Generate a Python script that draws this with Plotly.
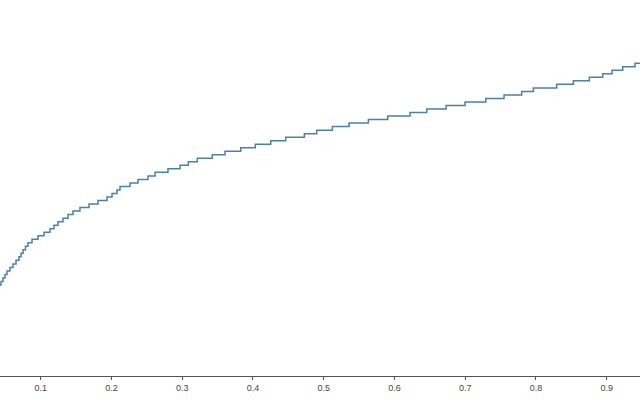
import plotly.graph_objects as go

# Step positions (x where each step rises)
step_x = [0.030,
          0.0439, 0.0467, 0.0495, 0.0524, 0.0566, 0.0608, 0.0651, 0.0693, 0.0722, 0.0750,
          0.0785, 0.0820, 0.0877, 0.0962, 0.1047, 0.1131, 0.1188, 0.1244, 0.1315, 0.1386,
          0.1456, 0.1555, 0.1683, 0.1810, 0.1937, 0.2008, 0.2078, 0.2121, 0.2262, 0.2375,
          0.2517, 0.2616, 0.2799, 0.2969, 0.3086, 0.3213, 0.3425, 0.3605, 0.3827, 0.4033,
          0.4251, 0.4463, 0.4726, 0.4901, 0.5122, 0.5358, 0.5631, 0.5905, 0.6220, 0.6456,
          0.6729, 0.6997, 0.7290, 0.7548, 0.7798, 0.7963, 0.8293, 0.8528, 0.8754, 0.8943,
          0.9075, 0.9226, 0.9400, 0.9700]
# Cumulative level after each step
step_y = [0,
          1, 2, 3, 4, 5, 6, 7, 8, 9, 10,
          11, 12, 13, 14, 15, 16, 17, 18, 19, 20,
          21, 22, 23, 24, 25, 26, 27, 28, 29, 30,
          31, 32, 33, 34, 35, 36, 37, 38, 39, 40,
          41, 42, 43, 44, 45, 46, 47, 48, 49, 50,
          51, 52, 53, 54, 55, 56, 57, 58, 59, 60,
          61, 62, 63, 63]
tick_vals = [0.1, 0.2, 0.3, 0.4, 0.5, 0.6, 0.7, 0.8, 0.9]
tick_text = ["0.1", "0.2", "0.3", "0.4", "0.5", "0.6", "0.7", "0.8", "0.9"]

fig = go.Figure()
fig.add_trace(go.Scatter(
    x=step_x, y=step_y, mode="lines", line_shape="hv",
    line=dict(color="#4a7fb0", width=1.5), hoverinfo="skip", showlegend=False,
))

fig.update_layout(
    width=640, height=400,
    margin=dict(l=0, r=0, t=0, b=24, pad=0),
    paper_bgcolor="white", plot_bgcolor="white",
    font=dict(family="Liberation Sans, Arial, sans-serif", size=9, color="#444"),
    xaxis=dict(range=[0.04247, 0.94700], tickvals=tick_vals, ticktext=tick_text,
               showgrid=False, zeroline=False, showline=True, linecolor="#555",
               linewidth=1, ticks="outside", ticklen=3, tickcolor="#555", tickwidth=1),
    yaxis=dict(range=[-25.85, 80.97], visible=False, showgrid=False, zeroline=False),
)

fig.write_html("out.html",
               config={"displayModeBar": False, "staticPlot": True},
               post_script="document.body.style.margin='0';document.body.style.overflow='hidden';")
